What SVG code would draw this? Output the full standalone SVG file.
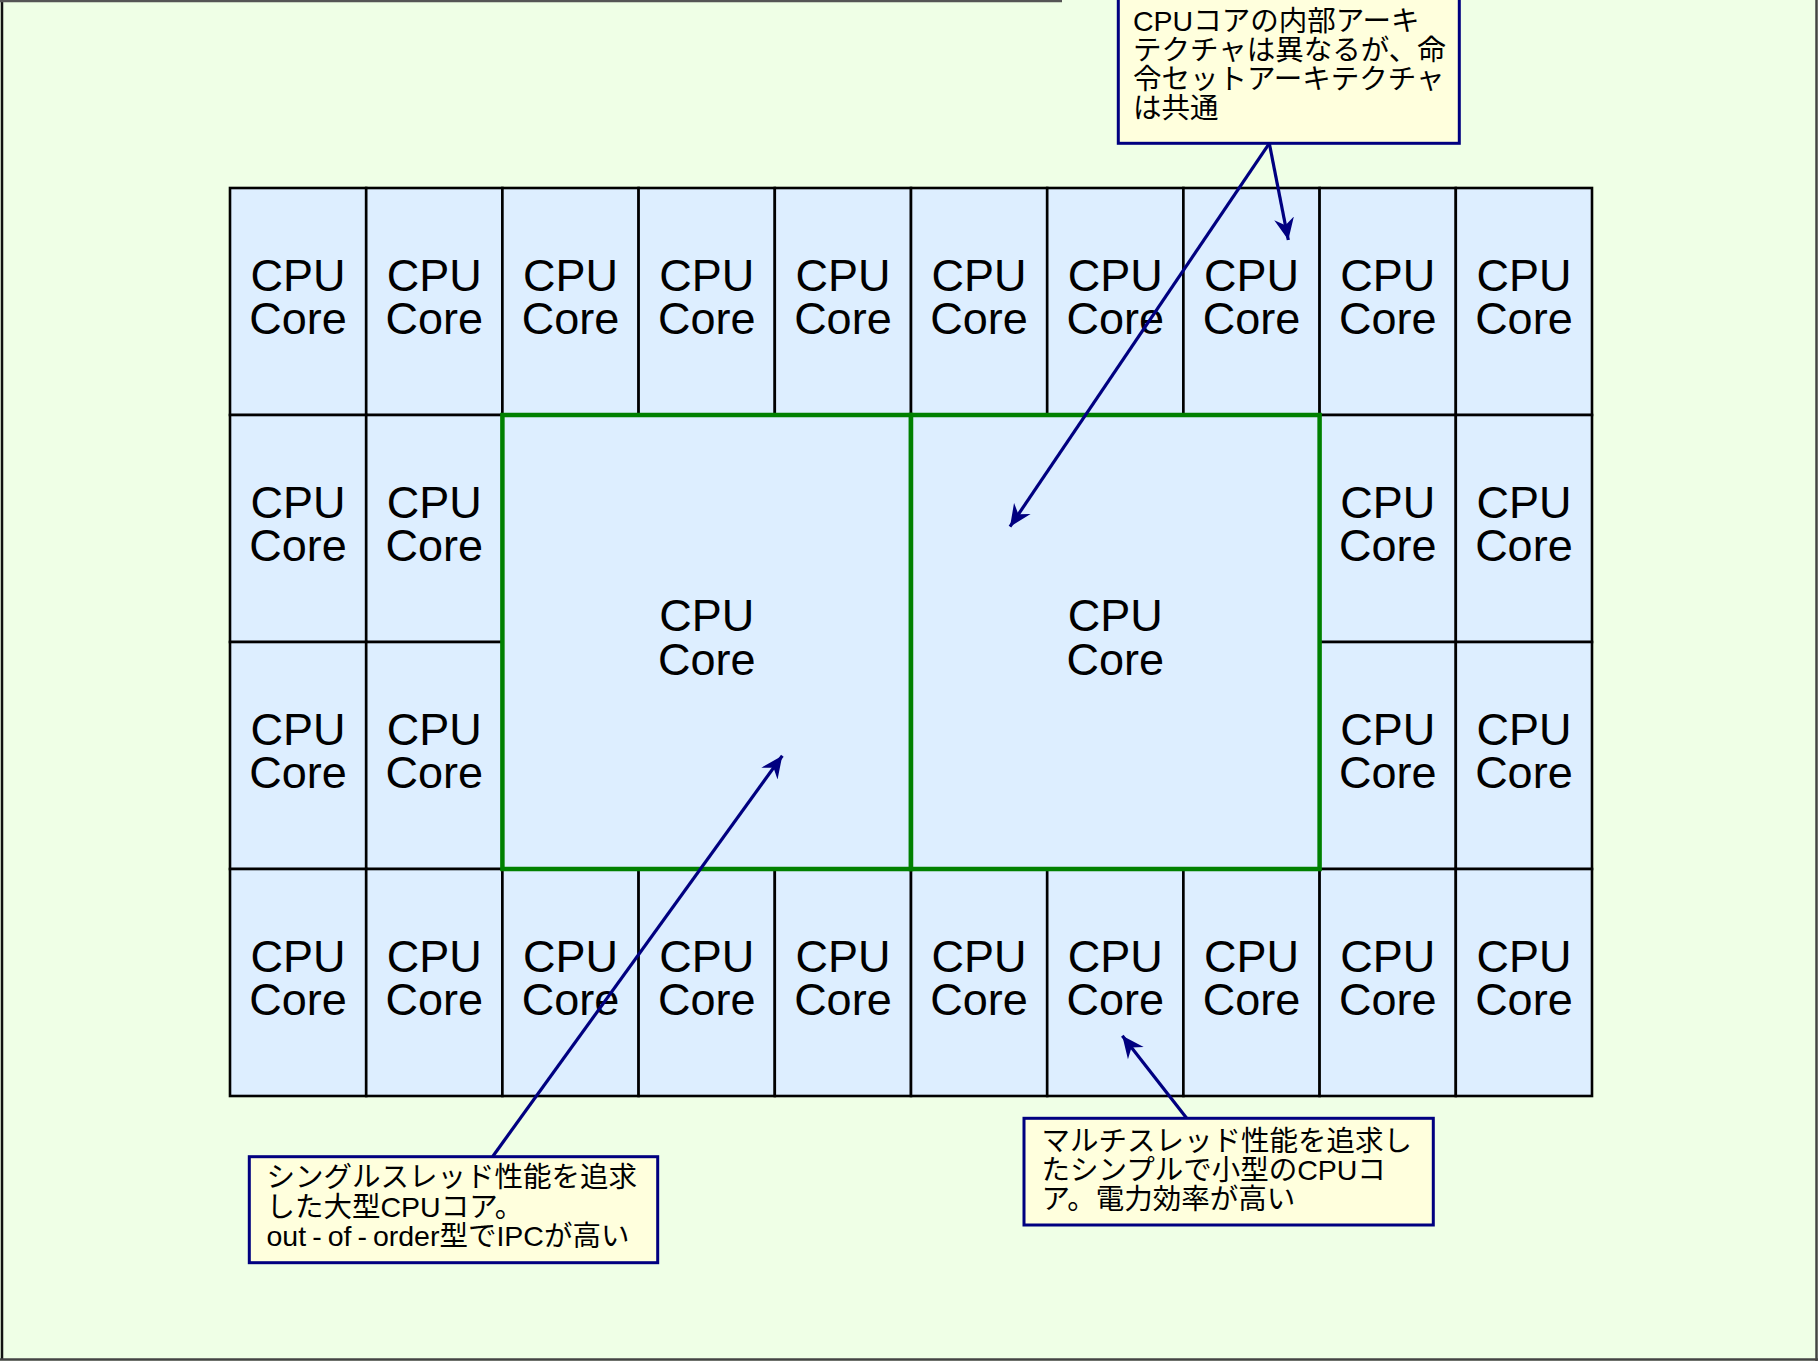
<svg xmlns="http://www.w3.org/2000/svg" width="1818" height="1361" viewBox="0 0 1818 1361">
<defs>
<style>
.cell{fill:#DDEEFF;stroke:#000;stroke-width:2.6}
.big{fill:#DDEEFF;stroke:#008000;stroke-width:4.5}
.lbl{font-family:"Liberation Sans",Arial,sans-serif;font-size:45px;fill:#000;text-anchor:middle}
.note{fill:#FFFFDD;stroke:#000080;stroke-width:3}
.nt{font-family:"Liberation Sans","Noto Sans CJK JP",sans-serif;font-size:28.5px;fill:#000}
.conn{stroke:#000080;stroke-width:3.2;fill:none;marker-end:url(#ah)}
</style>
<marker id="ah" viewBox="-22 -11 24 22" refX="0" refY="0" markerWidth="24" markerHeight="22" markerUnits="userSpaceOnUse" orient="auto">
<path d="M0,0 L-22,-10 L-15,0 L-22,10 Z" fill="#000080"/>
</marker>
</defs>
<rect x="0" y="0" width="1818" height="1361" fill="#EFFFE6"/>
<g id="frame" stroke-width="2.5" fill="none">
<line x1="2" y1="0" x2="2" y2="1360" stroke="#111"/>
<line x1="0" y1="1359.5" x2="1818" y2="1359.5" stroke="#444"/>
<line x1="1816.5" y1="0" x2="1816.5" y2="1361" stroke="#444"/>
<line x1="0" y1="1" x2="1062" y2="1" stroke="#555"/>
</g>
<g id="cores-row0">
<g id="c0-0"><rect class="cell" x="230" y="188" width="136.2" height="227"/><text class="lbl"><tspan x="298.1" y="290.5">CPU</tspan><tspan x="298.1" y="334">Core</tspan></text></g>
<g id="c0-1"><rect class="cell" x="366.2" y="188" width="136.2" height="227"/><text class="lbl"><tspan x="434.3" y="290.5">CPU</tspan><tspan x="434.3" y="334">Core</tspan></text></g>
<g id="c0-2"><rect class="cell" x="502.4" y="188" width="136.2" height="227"/><text class="lbl"><tspan x="570.5" y="290.5">CPU</tspan><tspan x="570.5" y="334">Core</tspan></text></g>
<g id="c0-3"><rect class="cell" x="638.6" y="188" width="136.2" height="227"/><text class="lbl"><tspan x="706.7" y="290.5">CPU</tspan><tspan x="706.7" y="334">Core</tspan></text></g>
<g id="c0-4"><rect class="cell" x="774.8" y="188" width="136.2" height="227"/><text class="lbl"><tspan x="842.9" y="290.5">CPU</tspan><tspan x="842.9" y="334">Core</tspan></text></g>
<g id="c0-5"><rect class="cell" x="911" y="188" width="136.2" height="227"/><text class="lbl"><tspan x="979.1" y="290.5">CPU</tspan><tspan x="979.1" y="334">Core</tspan></text></g>
<g id="c0-6"><rect class="cell" x="1047.2" y="188" width="136.2" height="227"/><text class="lbl"><tspan x="1115.3" y="290.5">CPU</tspan><tspan x="1115.3" y="334">Core</tspan></text></g>
<g id="c0-7"><rect class="cell" x="1183.4" y="188" width="136.2" height="227"/><text class="lbl"><tspan x="1251.5" y="290.5">CPU</tspan><tspan x="1251.5" y="334">Core</tspan></text></g>
<g id="c0-8"><rect class="cell" x="1319.6" y="188" width="136.2" height="227"/><text class="lbl"><tspan x="1387.7" y="290.5">CPU</tspan><tspan x="1387.7" y="334">Core</tspan></text></g>
<g id="c0-9"><rect class="cell" x="1455.8" y="188" width="136.2" height="227"/><text class="lbl"><tspan x="1523.9" y="290.5">CPU</tspan><tspan x="1523.9" y="334">Core</tspan></text></g>
</g>
<g id="cores-row1">
<g id="c1-0"><rect class="cell" x="230" y="415" width="136.2" height="227"/><text class="lbl"><tspan x="298.1" y="517.5">CPU</tspan><tspan x="298.1" y="561">Core</tspan></text></g>
<g id="c1-1"><rect class="cell" x="366.2" y="415" width="136.2" height="227"/><text class="lbl"><tspan x="434.3" y="517.5">CPU</tspan><tspan x="434.3" y="561">Core</tspan></text></g>
<g id="c1-8"><rect class="cell" x="1319.6" y="415" width="136.2" height="227"/><text class="lbl"><tspan x="1387.7" y="517.5">CPU</tspan><tspan x="1387.7" y="561">Core</tspan></text></g>
<g id="c1-9"><rect class="cell" x="1455.8" y="415" width="136.2" height="227"/><text class="lbl"><tspan x="1523.9" y="517.5">CPU</tspan><tspan x="1523.9" y="561">Core</tspan></text></g>
</g>
<g id="cores-row2">
<g id="c2-0"><rect class="cell" x="230" y="642" width="136.2" height="227"/><text class="lbl"><tspan x="298.1" y="744.5">CPU</tspan><tspan x="298.1" y="788">Core</tspan></text></g>
<g id="c2-1"><rect class="cell" x="366.2" y="642" width="136.2" height="227"/><text class="lbl"><tspan x="434.3" y="744.5">CPU</tspan><tspan x="434.3" y="788">Core</tspan></text></g>
<g id="c2-8"><rect class="cell" x="1319.6" y="642" width="136.2" height="227"/><text class="lbl"><tspan x="1387.7" y="744.5">CPU</tspan><tspan x="1387.7" y="788">Core</tspan></text></g>
<g id="c2-9"><rect class="cell" x="1455.8" y="642" width="136.2" height="227"/><text class="lbl"><tspan x="1523.9" y="744.5">CPU</tspan><tspan x="1523.9" y="788">Core</tspan></text></g>
</g>
<g id="cores-row3">
<g id="c3-0"><rect class="cell" x="230" y="869" width="136.2" height="227"/><text class="lbl"><tspan x="298.1" y="971.5">CPU</tspan><tspan x="298.1" y="1015">Core</tspan></text></g>
<g id="c3-1"><rect class="cell" x="366.2" y="869" width="136.2" height="227"/><text class="lbl"><tspan x="434.3" y="971.5">CPU</tspan><tspan x="434.3" y="1015">Core</tspan></text></g>
<g id="c3-2"><rect class="cell" x="502.4" y="869" width="136.2" height="227"/><text class="lbl"><tspan x="570.5" y="971.5">CPU</tspan><tspan x="570.5" y="1015">Core</tspan></text></g>
<g id="c3-3"><rect class="cell" x="638.6" y="869" width="136.2" height="227"/><text class="lbl"><tspan x="706.7" y="971.5">CPU</tspan><tspan x="706.7" y="1015">Core</tspan></text></g>
<g id="c3-4"><rect class="cell" x="774.8" y="869" width="136.2" height="227"/><text class="lbl"><tspan x="842.9" y="971.5">CPU</tspan><tspan x="842.9" y="1015">Core</tspan></text></g>
<g id="c3-5"><rect class="cell" x="911" y="869" width="136.2" height="227"/><text class="lbl"><tspan x="979.1" y="971.5">CPU</tspan><tspan x="979.1" y="1015">Core</tspan></text></g>
<g id="c3-6"><rect class="cell" x="1047.2" y="869" width="136.2" height="227"/><text class="lbl"><tspan x="1115.3" y="971.5">CPU</tspan><tspan x="1115.3" y="1015">Core</tspan></text></g>
<g id="c3-7"><rect class="cell" x="1183.4" y="869" width="136.2" height="227"/><text class="lbl"><tspan x="1251.5" y="971.5">CPU</tspan><tspan x="1251.5" y="1015">Core</tspan></text></g>
<g id="c3-8"><rect class="cell" x="1319.6" y="869" width="136.2" height="227"/><text class="lbl"><tspan x="1387.7" y="971.5">CPU</tspan><tspan x="1387.7" y="1015">Core</tspan></text></g>
<g id="c3-9"><rect class="cell" x="1455.8" y="869" width="136.2" height="227"/><text class="lbl"><tspan x="1523.9" y="971.5">CPU</tspan><tspan x="1523.9" y="1015">Core</tspan></text></g>
</g>
<g id="big-core-1"><rect class="big" x="502.4" y="415" width="408.6" height="454"/><text class="lbl"><tspan x="706.7" y="631">CPU</tspan><tspan x="706.7" y="674.5">Core</tspan></text></g>
<g id="big-core-2"><rect class="big" x="911" y="415" width="408.6" height="454"/><text class="lbl"><tspan x="1115.3" y="631">CPU</tspan><tspan x="1115.3" y="674.5">Core</tspan></text></g>
<g id="connectors">
<line class="conn" x1="1269.3" y1="143.3" x2="1288.3" y2="240"/>
<line class="conn" x1="1269.3" y1="143.3" x2="1010" y2="526.7"/>
<line class="conn" x1="492.7" y1="1156.5" x2="782.3" y2="755.7"/>
<line class="conn" x1="1187.3" y1="1119" x2="1122.3" y2="1035.7"/>
</g>
<g id="note-isa"><rect class="note" x="1118.3" y="-20" width="341" height="163.3"/><text class="nt"><tspan x="1133" y="31">CPUコアの内部アーキ</tspan><tspan x="1133" y="60">テクチャは異なるが、命</tspan><tspan x="1133" y="89">令セットアーキテクチャ</tspan><tspan x="1133" y="118">は共通</tspan></text></g>
<g id="note-big"><rect class="note" x="249.3" y="1156.7" width="408.4" height="106"/><text class="nt"><tspan x="266.5" y="1187">シングルスレッド性能を追求</tspan><tspan x="266.5" y="1216.5">した大型CPUコア。</tspan><tspan x="266.5" y="1246">out</tspan><tspan dx="6">-</tspan><tspan dx="6">of</tspan><tspan dx="6">-</tspan><tspan dx="6">order型でIPCが高い</tspan></text></g>
<g id="note-small"><rect class="note" x="1024" y="1118.3" width="409.3" height="106.7"/><text class="nt"><tspan x="1041.5" y="1151">マルチスレッド性能を追求し</tspan><tspan x="1041.5" y="1180">たシンプルで小型のCPUコ</tspan><tspan x="1041.5" y="1209">ア。電力効率が高い</tspan></text></g>
</svg>
